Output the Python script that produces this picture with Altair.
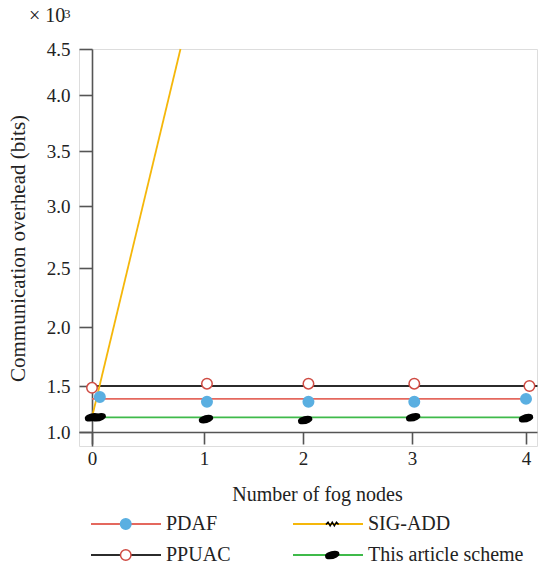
import altair as alt
import pandas as pd

FONT = "Liberation Serif"

series_order = ["PDAF", "PPUAC", "SIG-ADD", "This article scheme"]
line_colors = ["#e4685e", "#2b2b2b", "#f5b70a", "#3fba4a"]

# line segments (start / end points of each series line)
line_series = ["PPUAC", "PPUAC", "PDAF", "PDAF",
               "This article scheme", "This article scheme", "SIG-ADD", "SIG-ADD"]
line_x = [0, 4.1, 0, 4.0, 0, 4.0, 0, 0.79]
line_y = [1.50, 1.50, 1.36, 1.36, 1.16, 1.16, 1.16, 4.5]
line_order = [0, 0, 1, 1, 2, 2, 3, 3]

# markers
pdaf_x = [0.07, 1.03, 2.05, 3.02, 4.0]
pdaf_y = [1.38, 1.33, 1.33, 1.33, 1.36]
ppuac_x = [0.0, 1.03, 2.05, 3.02, 4.03]
ppuac_y = [1.48, 1.52, 1.52, 1.52, 1.50]
scheme_x = [0.0, 0.06, 1.02, 2.02, 3.01, 4.0]
scheme_y = [1.16, 1.16, 1.14, 1.13, 1.16, 1.15]

x_ticks = [0, 1, 2, 3, 4]
y_ticks = [1.0, 1.5, 2.0, 2.5, 3.0, 3.5, 4.0, 4.5]

lines_df = pd.DataFrame({"series": line_series, "x": line_x, "y": line_y, "o": line_order})
markers_df = pd.DataFrame({
    "series": ["PDAF"] * len(pdaf_x) + ["PPUAC"] * len(ppuac_x) + ["This article scheme"] * len(scheme_x),
    "x": pdaf_x + ppuac_x + scheme_x,
    "y": pdaf_y + ppuac_y + scheme_y,
})

zigzag = "M-1.2,0.1L-0.8,-0.35L-0.4,0.35L0,-0.35L0.4,0.35L0.8,-0.35L1.2,0.1"
blob = "M-1.2,0.32A1.25,0.55,-15,1,0,1.2,-0.32A1.25,0.55,-15,1,0,-1.2,0.32Z"
marker_shapes = ["circle", "circle", zigzag, blob]
marker_fills = ["#5aafe1", "white", "transparent", "black"]
marker_strokes = ["#5aafe1", "#cf4b43", "black", "black"]

x_scale = alt.Scale(domain=[-0.116, 0, 1, 2, 3, 4, 4.096],
                    range=[0, 13, 125, 224, 333, 447, 458], nice=False, zero=False)
y_scale = alt.Scale(domain=[0.848, 1.0, 1.5, 2.0, 2.5, 3.0, 3.5, 4.0, 4.5],
                    range=[397, 383, 337, 278, 219, 157, 102, 46, 0], nice=False, zero=False)

x_axis = alt.Axis(values=x_ticks, format="d", offset=-14, tickSize=12, grid=False,
                  domainColor="#555", tickColor="#555", domainWidth=1.6, tickWidth=1.6,
                  labelFont=FONT, labelFontSize=19, labelColor="#222", labelPadding=5,
                  title="Number of fog nodes", titleFont=FONT, titleFontSize=20,
                  titleFontWeight="normal", titleColor="#222",
                  titleX=238, titleY=62, titleBaseline="middle")
y_axis = alt.Axis(values=y_ticks, format=".1f", offset=-13, tickSize=13, grid=False,
                  domainColor="#555", tickColor="#555", domainWidth=1.6, tickWidth=1.6,
                  labelFont=FONT, labelFontSize=19, labelColor="#222", labelPadding=9,
                  title="Communication overhead (bits)", titleFont=FONT, titleFontSize=21,
                  titleFontWeight="normal", titleColor="#222",
                  titleX=-74, titleY=199, titleBaseline="middle")

legend_common = dict(orient="none", legendY=465, columns=2, title=None,
                     labelFont=FONT, labelFontSize=20, rowPadding=11, padding=0)

line_legend = alt.Legend(legendX=37, symbolType="M-7,0L7,0", symbolSize=100,
                         symbolStrokeWidth=2, labelColor="#222", labelOffset=30,
                         columnPadding=58, **legend_common)

marker_legend_kw = dict(legendX=36.75, symbolSize=110, symbolStrokeWidth=1.5,
                        labelColor="#222", labelExpr="''", labelOffset=35,
                        columnPadding=151.5, **legend_common)

lines = alt.Chart(lines_df).mark_line(strokeWidth=1.8).encode(
    x=alt.X("x:Q", scale=x_scale, axis=x_axis),
    y=alt.Y("y:Q", scale=y_scale, axis=y_axis),
    color=alt.Color("series:N", sort=series_order, scale=alt.Scale(range=line_colors),
                    legend=line_legend),
    detail="series:N",
    order="o:Q",
)

markers = alt.Chart(markers_df).mark_point(size=110, strokeWidth=1.5, opacity=1).encode(
    x=alt.X("x:Q", scale=x_scale, axis=x_axis),
    y=alt.Y("y:Q", scale=y_scale, axis=y_axis),
    shape=alt.Shape("series:N", scale=alt.Scale(domain=series_order, range=marker_shapes),
                    legend=alt.Legend(**marker_legend_kw)),
    fill=alt.Fill("series:N", scale=alt.Scale(domain=series_order, range=marker_fills),
                  legend=alt.Legend(**marker_legend_kw)),
    stroke=alt.Stroke("series:N", scale=alt.Scale(domain=series_order, range=marker_strokes),
                      legend=alt.Legend(**marker_legend_kw)),
)

exp_base = pd.DataFrame({"t": ["× 10"]})
exp_power = pd.DataFrame({"t": ["3"]})
exponent = alt.Chart(exp_base).mark_text(align="left", baseline="alphabetic", font=FONT,
                                         fontSize=20, color="#222").encode(
    text="t:N", x=alt.value(-50), y=alt.value(-27))
power = alt.Chart(exp_power).mark_text(align="left", baseline="alphabetic", font=FONT,
                                       fontSize=13, color="#222").encode(
    text="t:N", x=alt.value(-15), y=alt.value(-31))

chart = alt.layer(lines, markers, exponent, power).properties(
    width=458, height=397,
    autosize=alt.AutoSizeParams(type="none"),
    padding={"left": 79, "top": 49, "right": 1, "bottom": 125},
).configure_view(stroke=None).configure(background="white")

chart.save("out.html", embed_options={"renderer": "svg", "actions": False})
